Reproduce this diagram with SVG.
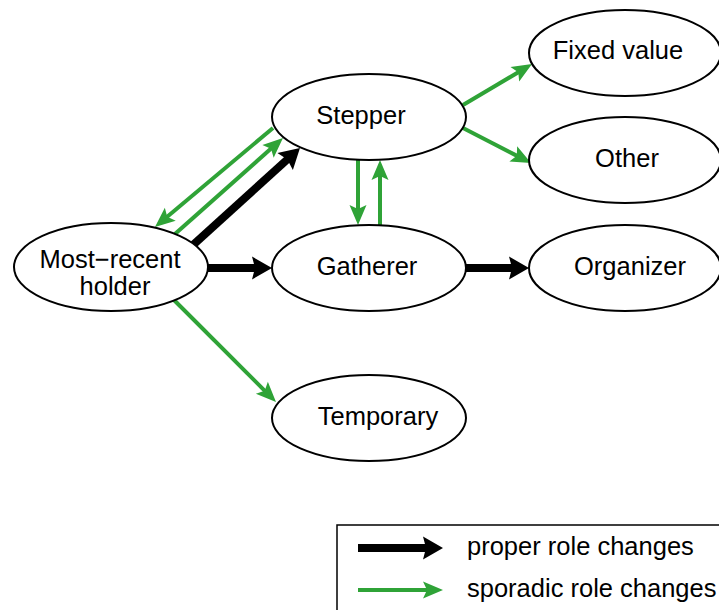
<svg xmlns="http://www.w3.org/2000/svg" width="719" height="610" viewBox="0 0 719 610">
<style>
.node ellipse{fill:#fff;stroke:#000;stroke-width:2}
text{font-family:"Liberation Sans",Arial,sans-serif;font-size:25.5px;fill:#000}
.node text{text-anchor:middle}
.proper{stroke:#000;stroke-width:8;fill:none;marker-end:url(#ab)}
.sporadic{stroke:#2fa337;stroke-width:4;fill:none;marker-end:url(#ag)}
</style>
<defs>
<marker id="ab" markerUnits="userSpaceOnUse" markerWidth="22" markerHeight="26" refX="6" refY="13" orient="auto" overflow="visible">
<path d="M0,1.5 L20,13 L0,24.5 L3,13 Z" fill="#000"/>
</marker>
<marker id="ag" markerUnits="userSpaceOnUse" markerWidth="22" markerHeight="20" refX="6" refY="10" orient="auto" overflow="visible">
<path d="M0,1.5 L20,10 L0,18.5 L4,10 Z" fill="#2fa337"/>
</marker>
</defs>
<rect width="719" height="610" fill="#fff"/>
<g id="connectors">
<line class="proper" x1="193" y1="245" x2="289.6" y2="157.4"/>
<line class="proper" x1="208" y1="268" x2="258" y2="268"/>
<line class="proper" x1="466" y1="268" x2="515" y2="268"/>
<line class="sporadic" x1="273" y1="128" x2="165.7" y2="218"/>
<line class="sporadic" x1="175" y1="234" x2="272.5" y2="147.3"/>
<line class="sporadic" x1="358" y1="160" x2="358" y2="211"/>
<line class="sporadic" x1="380" y1="225" x2="380" y2="174"/>
<line class="sporadic" x1="463" y1="105" x2="520" y2="71.2"/>
<line class="sporadic" x1="463" y1="128" x2="518.6" y2="156.6"/>
<line class="sporadic" x1="174" y1="300" x2="266.1" y2="392.1"/>
</g>
<g id="stepper" class="node"><ellipse cx="369" cy="117" rx="97" ry="43"/><text x="361" y="124">Stepper</text></g>
<g id="gatherer" class="node"><ellipse cx="369" cy="268" rx="97" ry="43"/><text x="367" y="275">Gatherer</text></g>
<g id="fixed-value" class="node"><ellipse cx="625" cy="53" rx="96" ry="43"/><text x="618" y="59">Fixed value</text></g>
<g id="other" class="node"><ellipse cx="625" cy="160" rx="96" ry="43"/><text x="627" y="167">Other</text></g>
<g id="organizer" class="node"><ellipse cx="625" cy="268" rx="96" ry="43"/><text x="630" y="275">Organizer</text></g>
<g id="most-recent-holder" class="node"><ellipse cx="111" cy="267" rx="97" ry="44"/><text x="110" y="268">Most−recent</text><text x="115" y="295">holder</text></g>
<g id="temporary" class="node"><ellipse cx="369" cy="418" rx="97" ry="43"/><text x="378" y="425">Temporary</text></g>
<g id="legend">
<rect x="337" y="525" width="400" height="100" fill="#fff" stroke="#000" stroke-width="1.5"/>
<line class="proper" x1="358" y1="548" x2="429" y2="548"/>
<line class="sporadic" x1="358" y1="590" x2="429" y2="590"/>
<text x="467" y="555">proper role changes</text>
<text x="467" y="597">sporadic role changes</text>
</g>
</svg>
